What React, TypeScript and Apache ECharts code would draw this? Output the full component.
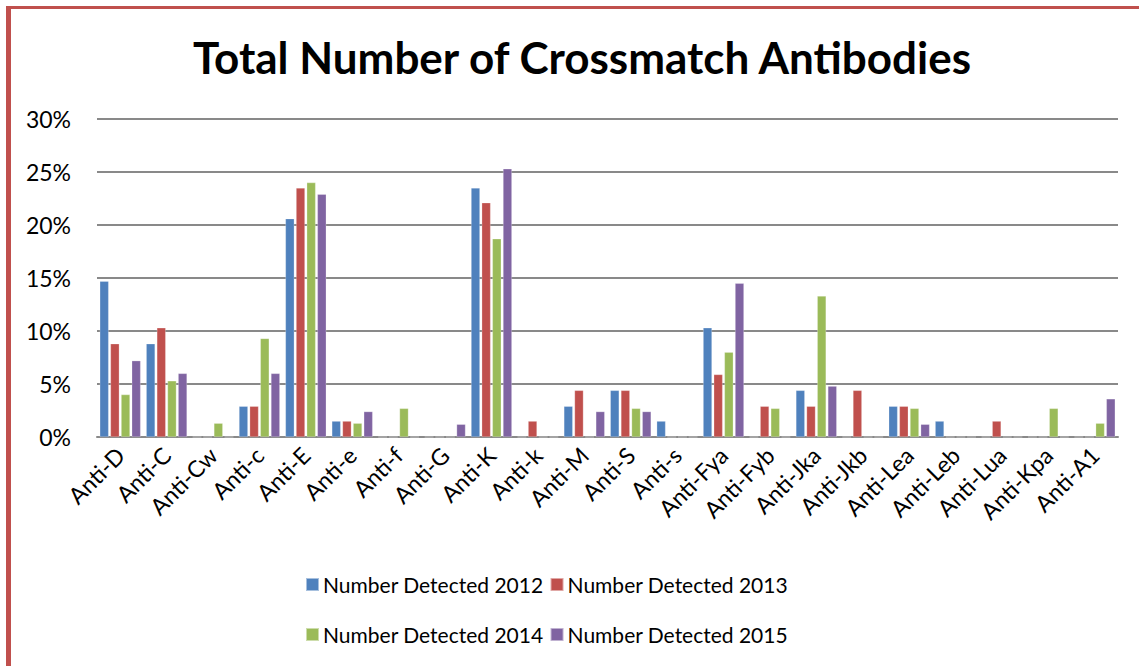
import React, { useEffect, useRef } from "react";
import * as echarts from "echarts";

const categories = [
  "Anti-D", "Anti-C", "Anti-Cw", "Anti-c", "Anti-E", "Anti-e", "Anti-f", "Anti-G",
  "Anti-K", "Anti-k", "Anti-M", "Anti-S", "Anti-s", "Anti-Fya", "Anti-Fyb", "Anti-Jka",
  "Anti-Jkb", "Anti-Lea", "Anti-Leb", "Anti-Lua", "Anti-Kpa", "Anti-A1",
];

// values in percent
const detected2012 = [14.7, 8.8, 0, 2.9, 20.6, 1.5, 0, 0, 23.5, 0, 2.9, 4.4, 1.5, 10.3, 0, 4.4, 0, 2.9, 1.5, 0, 0, 0];
const detected2013 = [8.8, 10.3, 0, 2.9, 23.5, 1.5, 0, 0, 22.1, 1.5, 4.4, 4.4, 0, 5.9, 2.9, 2.9, 4.4, 2.9, 0, 1.5, 0, 0];
const detected2014 = [4.0, 5.3, 1.3, 9.3, 24.0, 1.3, 2.7, 0, 18.7, 0, 0, 2.7, 0, 8.0, 2.7, 13.3, 0, 2.7, 0, 0, 2.7, 1.3];
const detected2015 = [7.2, 6.0, 0, 6.0, 22.9, 2.4, 0, 1.2, 25.3, 0, 2.4, 2.4, 0, 14.5, 0, 4.8, 0, 1.2, 0, 0, 0, 3.6];

const seriesNames = [
  "Number Detected 2012",
  "Number Detected 2013",
  "Number Detected 2014",
  "Number Detected 2015",
];
const seriesColors = ["#4f81bd", "#c0504d", "#9bbb59", "#8064a2"];
const yTicks = { min: 0, max: 30, interval: 5 };

const FONT = "Lato, 'Open Sans', sans-serif";

export default function App() {
  const ref = useRef<HTMLDivElement>(null);
  useEffect(() => {
    if (!ref.current) return;
    const chart = echarts.init(ref.current, null, { renderer: "svg" });
    const data = [detected2012, detected2013, detected2014, detected2015];
    const legendCommon = {
      left: 300,
      itemWidth: 13,
      itemHeight: 13,
      itemGap: 6,
      icon: "rect",
      textStyle: { fontFamily: FONT, fontSize: 21, color: "#000", padding: [0, 0, 0, -1] },
    };
    chart.setOption({
      animation: false,
      backgroundColor: "#fff",
      textStyle: { fontFamily: FONT },
      title: {
        text: "Total Number of Crossmatch Antibodies",
        left: 577,
        textAlign: "center",
        top: 30,
        textStyle: { fontFamily: FONT, fontSize: 44, fontWeight: "bold", color: "#000" },
      },
      graphic: [
        { type: "rect", shape: { x: 6, y: 6, width: 5, height: 660 }, style: { fill: "#c0504d" } },
        { type: "rect", shape: { x: 6, y: 6, width: 1133, height: 3 }, style: { fill: "#c0504d" } },
      ],
      legend: [
        { ...legendCommon, top: 569, data: [seriesNames[0], seriesNames[1]] },
        { ...legendCommon, top: 619, data: [seriesNames[2], seriesNames[3]] },
      ],
      grid: { left: 97, right: 21, top: 119, bottom: 229, containLabel: false },
      xAxis: {
        type: "category",
        data: categories,
        axisLine: { show: true, lineStyle: { color: "#898989", width: 2 } },
        axisTick: { show: false },
        axisLabel: {
          rotate: 45,
          interval: 0,
          margin: 14,
          fontFamily: FONT,
          fontSize: 23,
          color: "#000",
        },
      },
      yAxis: {
        type: "value",
        min: yTicks.min,
        max: yTicks.max,
        interval: yTicks.interval,
        axisLine: { show: false },
        axisTick: { show: false },
        splitLine: { lineStyle: { color: "#898989", width: 2 } },
        axisLabel: {
          formatter: "{value}%",
          margin: 26,
          fontFamily: FONT,
          fontSize: 23,
          color: "#000",
        },
      },
      series: data.map((d, i) => ({
        name: seriesNames[i],
        type: "bar",
        data: d,
        barGap: "20%",
        barCategoryGap: "12%",
        itemStyle: {
          color: seriesColors[i],
          borderColor: "rgba(255,255,255,0.5)",
          borderWidth: 0.5,
        },
      })),
    });
    return () => chart.dispose();
  }, []);
  return (
    <div
      ref={ref}
      style={{ position: "fixed", left: 0, top: 0, width: 1139, height: 666 }}
    />
  );
}
